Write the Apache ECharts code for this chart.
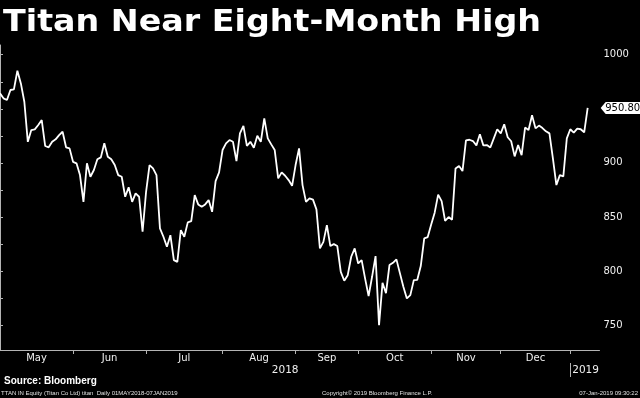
<!DOCTYPE html>
<html>
<head>
<meta charset="utf-8">
<script src="https://cdn.jsdelivr.net/npm/echarts@6/dist/echarts.min.js"></script>
<style>
html,body{margin:0;padding:0;background:#000;}
#chart{width:640px;height:398px;}
</style>
</head>
<body>
<div id="chart"></div>
<script>
// ---- data (daily close, TITAN IN, 02 May 2018 - 07 Jan 2019, trading-day index) ----
var closeMayAug = [
  964.3, 959.7, 958.1, 967.4, 968.0, 985.2, 973.5, 956.5, 919.5, 930.4,
  931.0, 935.0, 939.6, 915.6, 914.4, 919.5, 921.8, 925.7, 928.8, 914.4,
  913.4, 901.0, 899.6, 888.7, 864.0, 899.6, 887.2, 893.4, 903.3, 905.1,
  918.1, 905.7, 903.3, 898.0, 888.7, 887.2, 868.7, 877.4, 864.0, 871.8,
  868.7, 836.3, 873.0, 898.0,
  894.9, 888.7, 839.4, 831.7, 822.4, 833.2, 810.1, 808.5, 837.9, 831.7,
  845.0, 846.2, 870.2, 861.6, 859.4, 861.6, 865.6, 854.8, 883.2, 891.2,
  911.9, 918.1, 921.1, 919.5, 901.7, 927.3, 934.3, 915.8, 919.5, 914.0,
  925.1, 919.5, 941.2, 922.7, 917.1, 911.9, 885.7, 891.2, 888.1, 884.1,
  878.8, 898.0, 913.4
];
var closeSepOct = [
  879.5, 864.0, 867.2, 866.0, 857.0, 821.0, 827.0, 842.5, 823.1, 824.9,
  823.1, 799.3, 791.0, 796.2, 813.2, 821.0, 807.0, 810.1, 793.0, 776.8,
  794.7, 813.8, 750.0, 789.1, 779.5, 805.5, 807.6, 810.8, 798.1, 785.4,
  774.7, 777.7, 791.6, 791.9, 804.6
];
var closeNovJan = [
  830.2, 831.4, 843.0, 854.0, 870.7, 864.7, 846.4, 849.9, 847.4, 894.9,
  897.1, 892.4, 920.8, 921.4, 920.2, 916.2, 926.5, 916.2, 916.5, 914.2,
  922.7, 931.1, 927.3, 935.7, 923.7, 920.0, 906.0, 916.5, 907.2, 932.7,
  930.4, 944.0, 931.9, 934.5, 932.2, 929.2, 927.3, 904.2, 879.5, 888.7,
  887.6, 922.7, 931.1, 928.0, 931.7, 931.1, 928.3, 950.8
];
var monthNames = ['May', 'Jun', 'Jul', 'Aug', 'Sep', 'Oct', 'Nov', 'Dec'];
var monthStartIdx = [21, 42, 64, 85, 103, 124, 144, 164];      // first trading day of Jun..Jan
var monthLabelIdx = [10.5, 31.5, 53, 74.5, 94, 113.5, 134, 154];
var yearNames = ['2018', '2019'];
var yearLabelIdx = [82, 168.4];
var yearSplitIdx = [164];
var yLabelValues = [750, 800, 850, 900, 950, 1000];
var yTickValues = [750, 775, 800, 825, 850, 875, 900, 925, 950, 975, 1000];

// ---- build ----
var closes = closeMayAug.concat(closeSepOct, closeNovJan);
var lineData = closes.map(function (v, i) { return [i, v]; });
var lastIdx = closes.length - 1;
var lastVal = closes[lastIdx];

var axisGray = '#b4b4b4';
var textCol = '#f0f0f0';

var chart = echarts.init(document.getElementById('chart'), null, {renderer: 'canvas'});
chart.setOption({
  backgroundColor: '#000',
  animation: false,
  grid: {left: 0, right: 40.5, top: 45, bottom: 48, containLabel: false},
  xAxis: [
    {
      type: 'value', min: 0, max: 172.4, position: 'bottom',
      axisLine: {show: true, lineStyle: {color: axisGray, width: 1}},
      axisTick: {show: true, customValues: monthStartIdx, length: 4, lineStyle: {color: axisGray}},
      axisLabel: {
        customValues: monthLabelIdx, color: textCol, fontSize: 10, margin: 3,
        fontFamily: 'DejaVu Sans',
        formatter: function (v) { var k = monthLabelIdx.indexOf(v); return k >= 0 ? monthNames[k] : ''; }
      },
      splitLine: {show: false}
    },
    {
      type: 'value', min: 0, max: 172.4, position: 'bottom', offset: 13,
      axisLine: {show: false},
      axisTick: {show: true, customValues: yearSplitIdx, length: 14, lineStyle: {color: axisGray}},
      axisLabel: {
        customValues: yearLabelIdx, color: textCol, fontSize: 10.5, margin: 2,
        fontFamily: 'DejaVu Sans',
        formatter: function (v) { var k = yearLabelIdx.indexOf(v); return k >= 0 ? yearNames[k] : ''; }
      },
      splitLine: {show: false}
    }
  ],
  yAxis: {
    type: 'value', min: 727, max: 1009, position: 'right',
    axisLine: {show: true, lineStyle: {color: axisGray, width: 1}},
    axisTick: {show: true, customValues: yTickValues, length: 3, lineStyle: {color: axisGray}},
    axisLabel: {
      customValues: yLabelValues, color: textCol, fontSize: 10, margin: 4, fontFamily: 'DejaVu Sans',
      formatter: function (v) { return String(v); }
    },
    splitLine: {show: false}
  },
  series: [{
    type: 'line',
    data: lineData,
    showSymbol: false,
    clip: true,
    lineStyle: {color: '#ffffff', width: 1.8},
    markPoint: {
      symbol: 'path://M0,5 L5,0 L40,0 L40,10 L5,10 Z',
      symbolSize: [40, 12],
      symbolKeepAspect: false,
      symbolOffset: [33, 0],
      itemStyle: {color: '#ffffff'},
      label: {
        show: true, position: 'inside', color: '#000', fontSize: 10, fontFamily: 'DejaVu Sans',
        offset: [2, 0],
        formatter: function (p) { return Number(p.value).toFixed(2); }
      },
      data: [{coord: [lastIdx, lastVal], value: lastVal}]
    }
  }],
  graphic: [
    {type: 'text', x: 3, y: 8, scaleX: 1.11,
     style: {text: 'Titan Near Eight-Month High', fill: '#ffffff', font: 'bold 30px "DejaVu Sans"', textVerticalAlign: 'top'}},
    {type: 'text', x: 4, y: 376,
     style: {text: 'Source: Bloomberg', fill: '#ffffff', font: 'bold 10px "Liberation Sans"', textVerticalAlign: 'top'}},
    {type: 'text', x: 1, y: 390,
     style: {text: 'TTAN IN Equity (Titan Co Ltd) titan  Daily 01MAY2018-07JAN2019', fill: '#e0e0e0', font: '6px "Liberation Sans"', textVerticalAlign: 'top'}},
    {type: 'text', x: 322, y: 390,
     style: {text: 'Copyright\u00a9 2019 Bloomberg Finance L.P.', fill: '#e0e0e0', font: '6px "Liberation Sans"', textVerticalAlign: 'top'}},
    {type: 'text', x: 638, y: 390,
     style: {text: '07-Jan-2019 09:30:22', fill: '#e0e0e0', font: '6px "Liberation Sans"', textAlign: 'right', textVerticalAlign: 'top'}}
  ]
});
</script>
</body>
</html>
